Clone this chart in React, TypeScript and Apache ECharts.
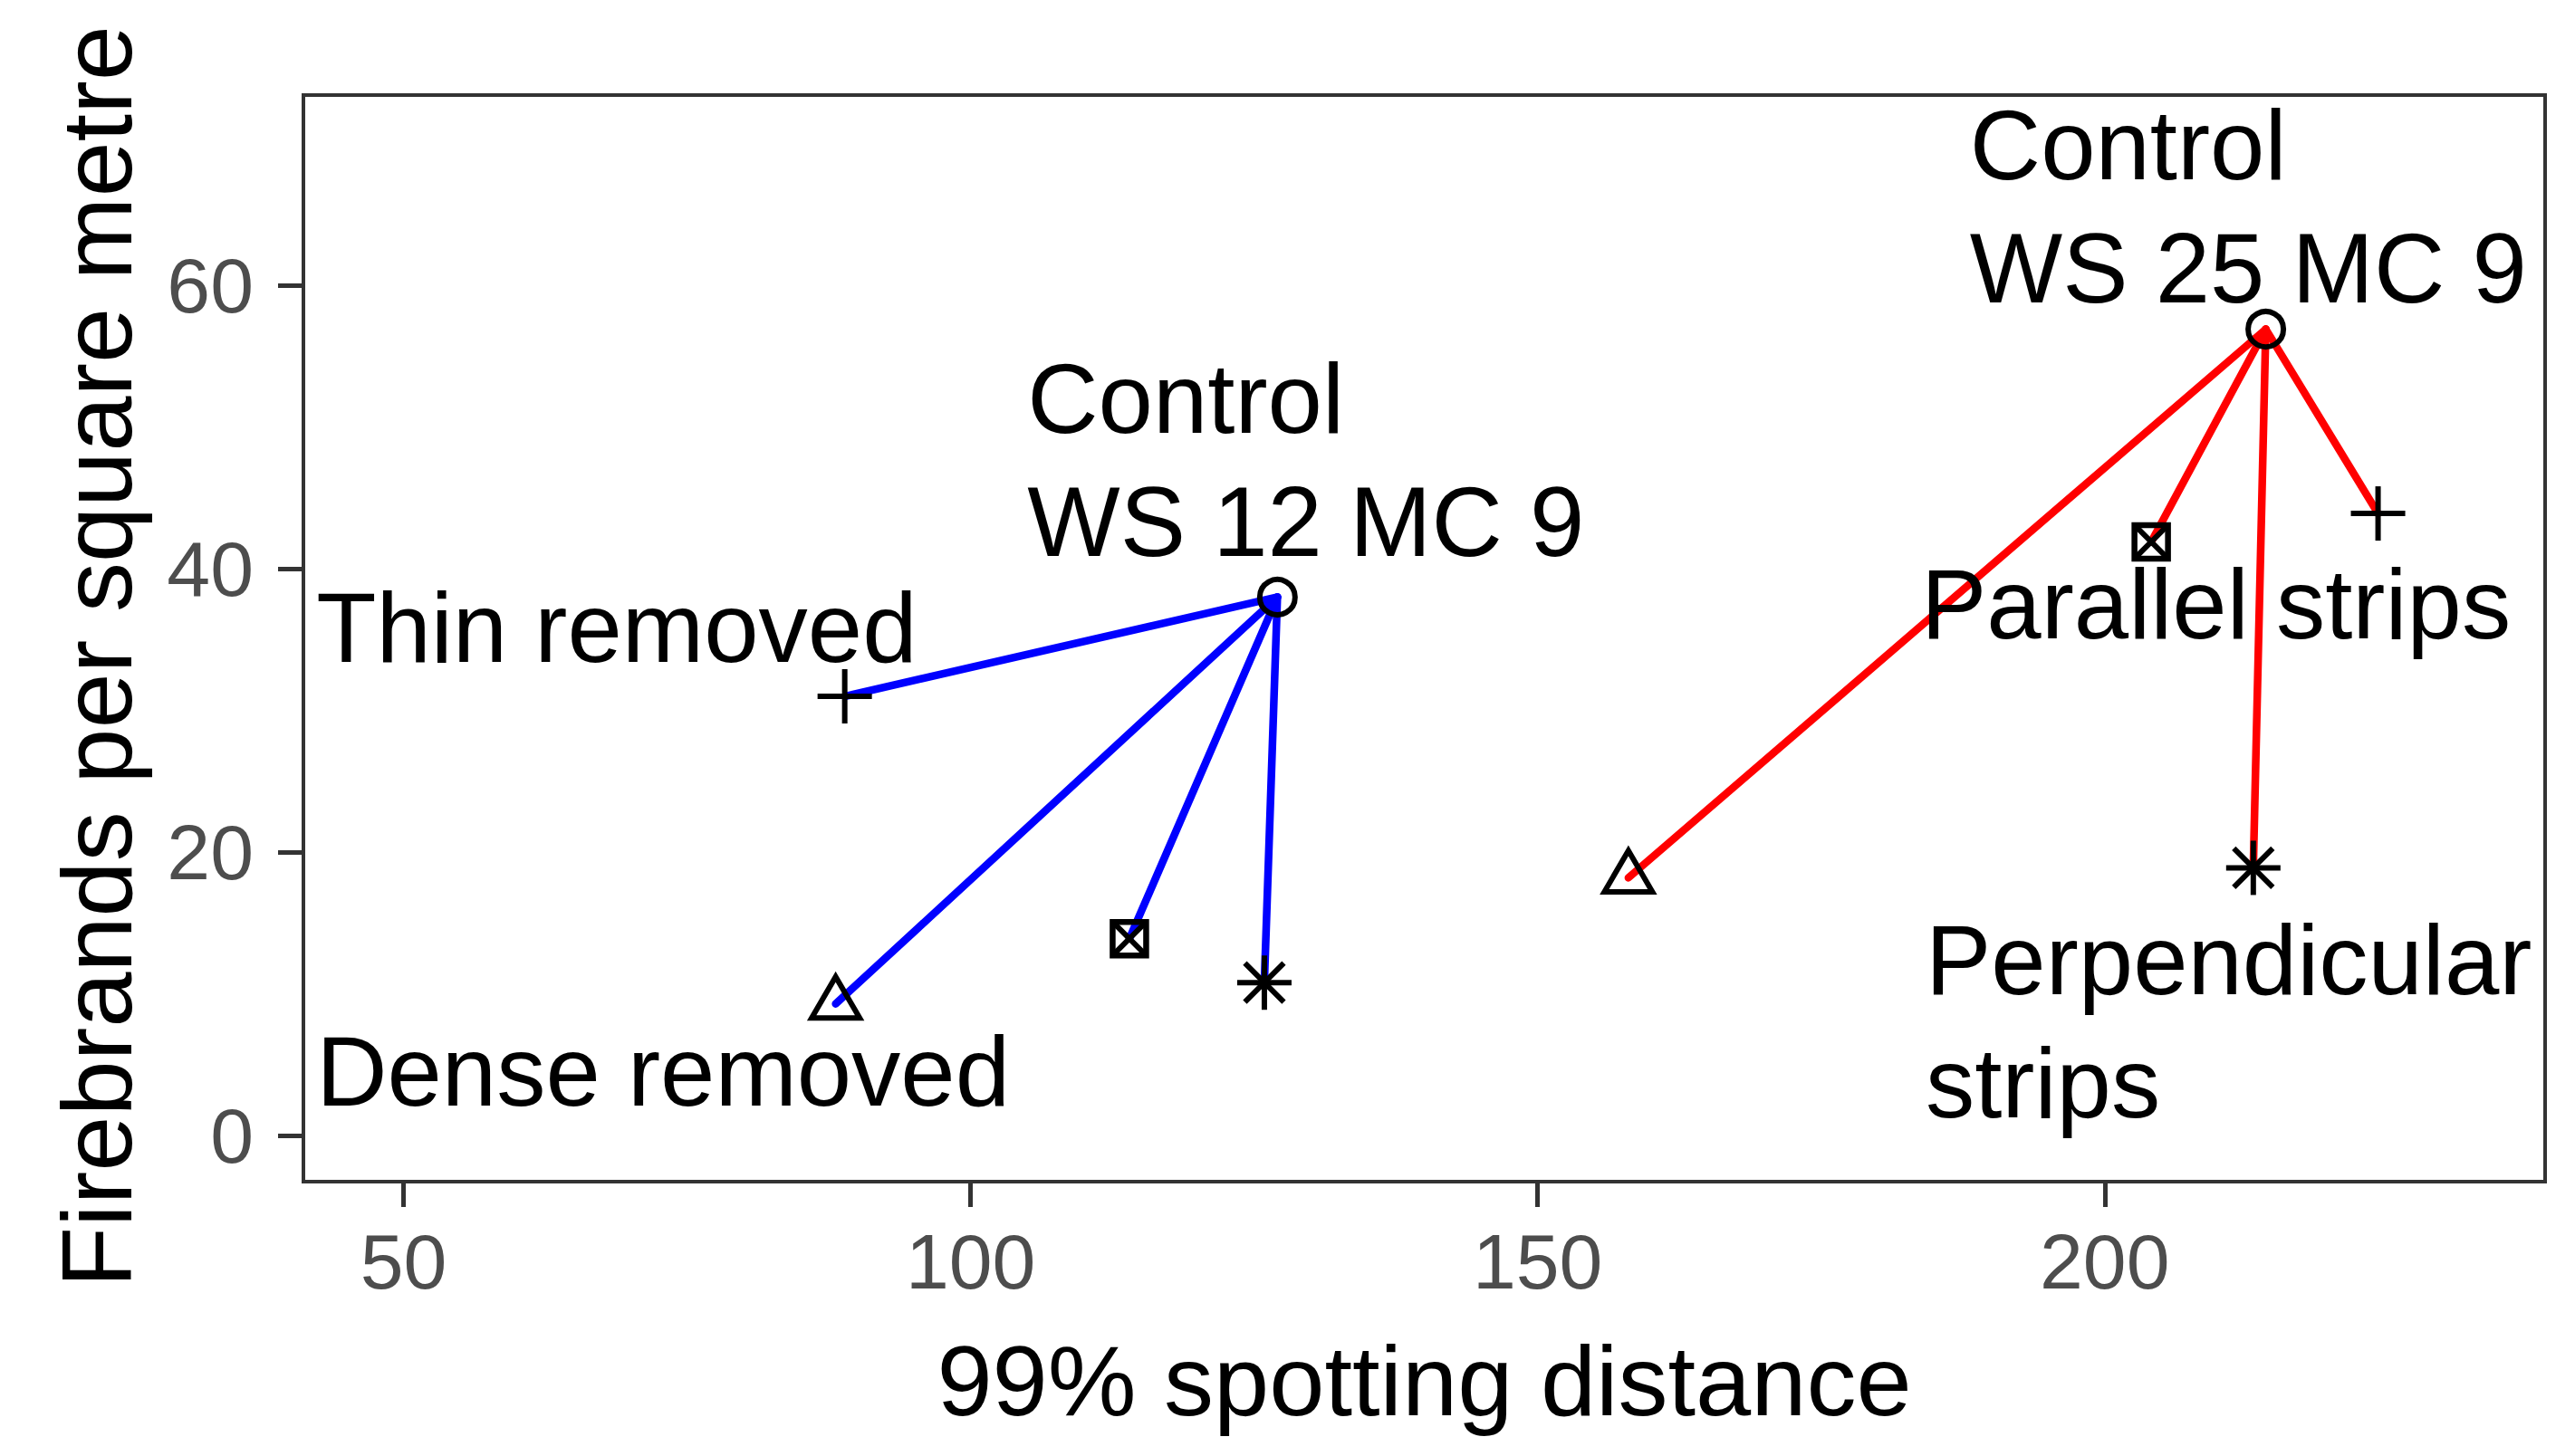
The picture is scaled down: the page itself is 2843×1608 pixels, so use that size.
import React, { useEffect, useRef } from "react";
import * as echarts from "echarts";

// ---- data ----
const treatments = ["Control", "Thin removed", "Dense removed", "Parallel strips", "Perpendicular strips"];
const markerShapes = ["circle", "plus", "triangle", "squareCross", "asterisk"];

const ws12Distance = [127.05, 88.9, 88.1, 114.0, 125.9];
const ws12Firebrands = [38.0, 31.0, 9.3, 13.9, 10.8];

const ws25Distance = [214.2, 224.1, 158.0, 204.1, 213.1];
const ws25Firebrands = [56.9, 43.9, 18.2, 41.9, 18.9];

const xTicks = [50, 100, 150, 200];
const yTicks = [0, 20, 40, 60];

const labelTexts = [
  "Control\nWS 12 MC 9",
  "Thin removed",
  "Dense removed",
  "Control\nWS 25 MC 9",
  "Parallel strips",
  "Perpendicular\nstrips",
];
const labelX = [105.0, 42.3, 42.3, 188.1, 183.8, 184.2];
const labelY = [47.65, 35.8, 4.5, 65.5, 37.5, 8.05];

const FONT = "'Liberation Sans', Arial, Helvetica, sans-serif";

function segments(xs: number[], ys: number[]) {
  const out: number[][] = [];
  for (let i = 1; i < xs.length; i++) out.push([xs[0], ys[0], xs[i], ys[i]]);
  return out;
}

function points(xs: number[], ys: number[]) {
  return xs.map((x, i) => [x, ys[i], i]);
}

const MARK_STROKE = 6;

function markerChildren(shape: string, cx: number, cy: number) {
  const st = { stroke: "#000", lineWidth: MARK_STROKE, fill: "none" };
  const line = (x1: number, y1: number, x2: number, y2: number) => ({
    type: "line",
    shape: { x1, y1, x2, y2 },
    style: { ...st },
  });
  const P = 30; // plus half-length
  const D = 21.5;
  switch (shape) {
    case "circle":
      return [{ type: "circle", shape: { cx, cy, r: 19.5 }, style: { ...st } }];
    case "plus":
      return [line(cx - P, cy, cx + P, cy), line(cx, cy - P, cx, cy + P)];
    case "triangle": {
      const r = 30, xc = 26.5, yc = 15.5;
      return [
        {
          type: "polygon",
          shape: { points: [[cx, cy - r], [cx + xc, cy + yc], [cx - xc, cy + yc]] },
          style: { ...st, lineJoin: "miter" },
        },
      ];
    }
    case "squareCross": {
      const h = 18.5;
      return [
        { type: "rect", shape: { x: cx - h, y: cy - h, width: 2 * h, height: 2 * h }, style: { ...st, lineWidth: 6.5 } },
        line(cx - h, cy - h, cx + h, cy + h),
        line(cx - h, cy + h, cx + h, cy - h),
      ];
    }
    case "asterisk":
    default:
      return [
        line(cx - P, cy, cx + P, cy),
        line(cx, cy - P, cx, cy + P),
        line(cx - D, cy - D, cx + D, cy + D),
        line(cx - D, cy + D, cx + D, cy - D),
      ];
  }
}

function segmentSeries(name: string, data: number[][], color: string) {
  return {
    type: "custom",
    name,
    coordinateSystem: "cartesian2d",
    data,
    encode: { x: [0, 2], y: [1, 3] },
    silent: true,
    clip: false,
    z: 2,
    renderItem: (_p: any, api: any) => {
      const a = api.coord([api.value(0), api.value(1)]);
      const b = api.coord([api.value(2), api.value(3)]);
      return {
        type: "line",
        shape: { x1: a[0], y1: a[1], x2: b[0], y2: b[1] },
        style: { stroke: color, lineWidth: 8.5, lineCap: "round" },
      };
    },
  };
}

function markerSeries(name: string, data: number[][]) {
  return {
    type: "custom",
    name,
    coordinateSystem: "cartesian2d",
    data,
    encode: { x: 0, y: 1 },
    silent: true,
    clip: false,
    z: 3,
    renderItem: (_p: any, api: any) => {
      const c = api.coord([api.value(0), api.value(1)]);
      const shape = markerShapes[api.value(2)];
      return { type: "group", children: markerChildren(shape, c[0], c[1]) };
    },
  };
}

export default function App() {
  const ref = useRef<HTMLDivElement>(null);
  useEffect(() => {
    document.body.style.margin = "0";
    document.body.style.overflow = "hidden";
    const chart = echarts.init(ref.current!, null, { renderer: "svg" });
    const labelData = labelTexts.map((_t, i) => [labelX[i], labelY[i], i]);
    chart.setOption({
      animation: false,
      backgroundColor: "#ffffff",
      grid: {
        left: 335,
        top: 105,
        width: 2475,
        height: 1200,
        show: true,
        borderColor: "#333333",
        borderWidth: 4,
        backgroundColor: "transparent",
      },
      xAxis: {
        type: "value",
        min: 41.17,
        max: 238.83,
        name: "99% spotting distance",
        nameLocation: "middle",
        nameGap: 164,
        nameTextStyle: { fontSize: 110, color: "#000000", fontFamily: FONT },
        axisLine: { show: true, onZero: false, lineStyle: { color: "#333333", width: 4 } },
        axisTick: { show: true, length: 28, customValues: xTicks, lineStyle: { color: "#333333", width: 5 } },
        axisLabel: { customValues: xTicks, fontSize: 86, color: "#4D4D4D", margin: 45, fontFamily: FONT },
        splitLine: { show: false },
      },
      yAxis: {
        type: "value",
        min: -3.24,
        max: 73.42,
        name: "Firebrands per square metre",
        nameLocation: "middle",
        nameRotate: 90,
        nameGap: 174,
        nameTextStyle: { fontSize: 110, color: "#000000", fontFamily: FONT, padding: [0, 40, 0, 0] },
        axisLine: { show: true, onZero: false, lineStyle: { color: "#333333", width: 4 } },
        axisTick: { show: true, length: 28, customValues: yTicks, lineStyle: { color: "#333333", width: 5 } },
        axisLabel: { customValues: yTicks, fontSize: 86, color: "#4D4D4D", margin: 55, fontFamily: FONT },
        splitLine: { show: false },
      },
      series: [
        segmentSeries("WS 12 lines", segments(ws12Distance, ws12Firebrands), "#0000FF"),
        segmentSeries("WS 25 lines", segments(ws25Distance, ws25Firebrands), "#FF0000"),
        markerSeries("WS 12 MC 9", points(ws12Distance, ws12Firebrands)),
        markerSeries("WS 25 MC 9", points(ws25Distance, ws25Firebrands)),
        {
          type: "custom",
          name: "labels",
          coordinateSystem: "cartesian2d",
          data: labelData,
          encode: { x: 0, y: 1 },
          silent: true,
          clip: false,
          z: 4,
          renderItem: (_p: any, api: any) => {
            const c = api.coord([api.value(0), api.value(1)]);
            return {
              type: "text",
              x: c[0],
              y: c[1],
              style: {
                text: labelTexts[api.value(2)],
                fontSize: 108.5,
                lineHeight: 136,
                fontFamily: FONT,
                fill: "#000000",
                align: "left",
                verticalAlign: "middle",
              },
            };
          },
        },
      ],
    });
    return () => chart.dispose();
  }, []);
  return <div ref={ref} style={{ width: 2843, height: 1608 }} />;
}
